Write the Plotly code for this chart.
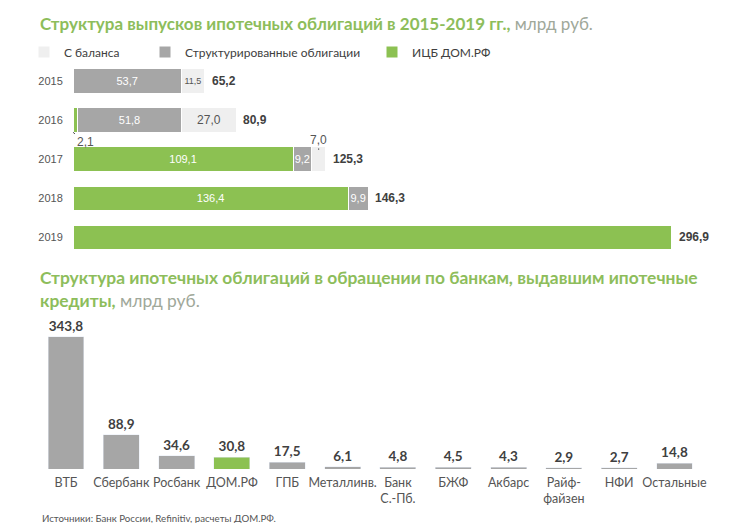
import plotly.graph_objects as go

# ---------- data ----------
years = ["2015", "2016", "2017", "2018", "2019"]
ics_vals = [0, 2.1, 109.1, 136.4, 296.9]          # ИЦБ ДОМ.РФ
struct_vals = [53.7, 51.8, 9.2, 9.9, 0]           # Структурированные облигации
balance_vals = [11.5, 27.0, 7.0, 0, 0]            # С баланса
totals = [65.2, 80.9, 125.3, 146.3, 296.9]

ics_inside = [False, False, True, True, False]
struct_inside = [True, True, True, True, False]
balance_inside = [True, True, False, False, False]

banks = ["ВТБ", "Сбербанк", "Росбанк", "ДОМ.РФ", "ГПБ", "Металлинв.",
         "Банк<br>С.-Пб.", "БЖФ", "Акбарс", "Райф-<br>файзен", "НФИ", "Остальные"]
bank_vals = [343.8, 88.9, 34.6, 30.8, 17.5, 6.1, 4.8, 4.5, 4.3, 2.9, 2.7, 14.8]
highlight_bank = "ДОМ.РФ"

# ---------- style ----------
GREEN = "#8cc152"
GRAY = "#a6a6a6"
LIGHT = "#efefef"
TITLE_GREEN = "#8dbd5b"
TITLE_GRAY = "#a0a89a"
ARIAL = "Liberation Sans, Arial, sans-serif"
CAL = "Lato, Open Sans, sans-serif"


def fmt(v):
    return f"{v:.1f}".replace(".", ",")


def labels(vals, show):
    return [fmt(v) if s and v else "" for v, s in zip(vals, show)]


fig = go.Figure()

common_h = dict(orientation="h", textposition="inside", insidetextanchor="middle",
                constraintext="none", textangle=0, xaxis="x", yaxis="y",
                hoverinfo="skip")

fig.add_trace(go.Bar(
    y=years, x=ics_vals, name="ИЦБ ДОМ.РФ", legend="legend3",
    marker=dict(color=GREEN, line=dict(color="white", width=1)),
    text=labels(ics_vals, ics_inside),
    textfont=dict(family=ARIAL, size=11, color="white"), **common_h))

fig.add_trace(go.Bar(
    y=years, x=struct_vals, name="Структурированные облигации", legend="legend2",
    marker=dict(color=GRAY, line=dict(color="white", width=1)),
    text=labels(struct_vals, struct_inside),
    textfont=dict(family=ARIAL, size=11, color="white"), **common_h))

fig.add_trace(go.Bar(
    y=years, x=balance_vals, name="С баланса", legend="legend",
    marker=dict(color=LIGHT, line=dict(color="white", width=1)),
    text=labels(balance_vals, balance_inside),
    textfont=dict(family=ARIAL, size=[9, 12, 11, 11, 11], color="#555555"),
    **common_h))

bank_colors = [GREEN if b == highlight_bank else GRAY for b in banks]
fig.add_trace(go.Bar(
    x=banks, y=bank_vals, marker=dict(color=bank_colors), width=0.65,
    text=[fmt(v) for v in bank_vals], textposition="outside", textangle=0,
    constraintext="none", cliponaxis=False,
    textfont=dict(family=CAL, size=13.5, color="#404040", weight="bold"),
    xaxis="x2", yaxis="y2", showlegend=False, hoverinfo="skip"))

annotations = []
# totals for top chart (category index positions)
for i, t in enumerate(totals):
    annotations.append(dict(
        x=t, y=i, xref="x", yref="y", text=f"<b>{fmt(t)}</b>",
        showarrow=False, xanchor="left", xshift=5,
        font=dict(family=ARIAL, size=12, color="#404040")))

# small-segment callouts
annotations.append(dict(
    x=0, y=1.31, xref="x", yref="y", text=fmt(ics_vals[1]),
    showarrow=True, arrowhead=0, arrowwidth=1, arrowcolor="#555555",
    ax=12, ay=10, font=dict(family=ARIAL, size=12, color="#555555")))
annotations.append(dict(
    x=ics_vals[2] + struct_vals[2] + balance_vals[2] / 2, y=1.76,
    xref="x", yref="y", text=fmt(balance_vals[2]),
    showarrow=True, arrowhead=0, arrowwidth=1, arrowcolor="#555555",
    ax=0, ay=-10, font=dict(family=ARIAL, size=12, color="#555555")))

# titles
annotations.append(dict(
    x=38 / 743, y=1 - 23 / 523, xref="paper", yref="paper",
    xanchor="left", yanchor="middle", showarrow=False,
    text=(f"<b>Структура выпусков ипотечных облигаций в 2015-2019 гг.,</b>"
          f"<span style='color:{TITLE_GRAY}'> млрд руб.</span>"),
    font=dict(family=CAL, size=17, color=TITLE_GREEN)))
annotations.append(dict(
    x=38 / 743, y=1 - 289 / 523, xref="paper", yref="paper",
    xanchor="left", yanchor="middle", showarrow=False, align="left",
    text=(f"<b>Структура ипотечных облигаций в обращении по банкам, выдавшим ипотечные</b>"
          f"<br><b>кредиты,</b><span style='color:{TITLE_GRAY}'> млрд руб.</span>"),
    font=dict(family=CAL, size=17.4, color=TITLE_GREEN)))
annotations.append(dict(
    x=40 / 743, y=1 - 518 / 523, xref="paper", yref="paper",
    xanchor="left", yanchor="middle", showarrow=False,
    text="Источники: Банк России, Refinitiv, расчеты ДОМ.РФ.",
    font=dict(family=CAL, size=9.7, color="#555555")))

legend_common = dict(orientation="h", y=1 - 52 / 523, xanchor="left",
                     yanchor="middle", itemwidth=30, bgcolor="rgba(0,0,0,0)",
                     font=dict(family=CAL, size=12, color="#404040"))

fig.update_layout(
    width=743, height=523,
    margin=dict(l=0, r=0, t=0, b=0, autoexpand=False),
    paper_bgcolor="white", plot_bgcolor="white",
    barmode="stack", bargap=0.373,
    showlegend=True,
    legend=dict(x=24 / 743, **legend_common),
    legend2=dict(x=145 / 743, **legend_common),
    legend3=dict(x=372 / 743, **legend_common),
    xaxis=dict(domain=[73 / 743, 1], range=[0, 670 / 2.017],
               showgrid=False, zeroline=False, showline=False,
               showticklabels=False, fixedrange=True, automargin=False),
    yaxis=dict(domain=[1 - 257.05 / 523, 1 - 61.45 / 523], type="category",
               range=[4.5, -0.5], showgrid=False, zeroline=False,
               showline=False, ticks="outside", ticklen=7,
               tickcolor="rgba(0,0,0,0)", automargin=False,
               tickfont=dict(family=ARIAL, size=11, color="#555555")),
    xaxis2=dict(domain=[38.34 / 743, 702.16 / 743], type="category",
                range=[-0.5, 11.5], showgrid=False, zeroline=False,
                showline=False, ticks="outside", ticklen=2, tickangle=0,
                tickcolor="rgba(0,0,0,0)", anchor="y2", automargin=False,
                tickfont=dict(family=CAL, size=12.5, color="#555555")),
    yaxis2=dict(domain=[1 - 469 / 523, 1 - 323 / 523], range=[0, 380],
                showgrid=False, zeroline=False, showline=False,
                showticklabels=False, anchor="x2", automargin=False),
    annotations=annotations,
)

fig.write_html("out.html", config={"displayModeBar": False},
               post_script="document.body.style.margin='0';document.body.style.overflow='hidden';")
